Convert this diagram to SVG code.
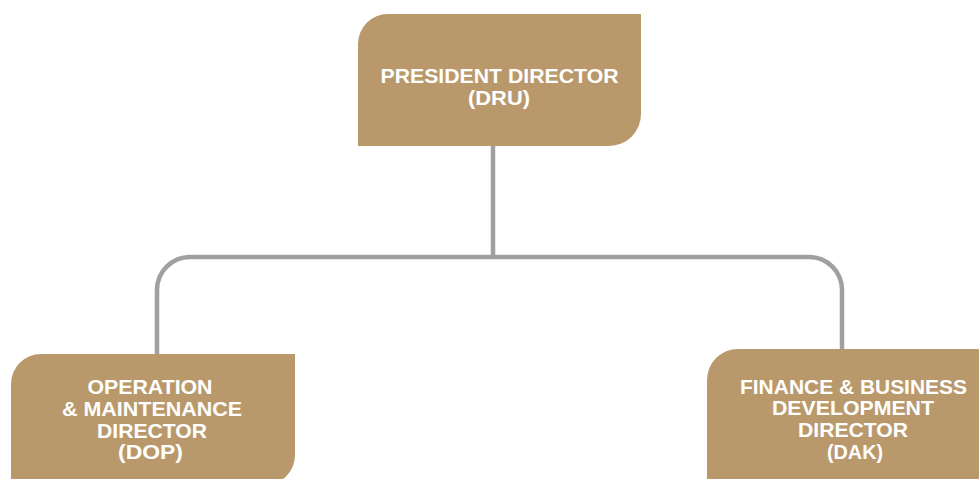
<svg xmlns="http://www.w3.org/2000/svg" width="979" height="479" viewBox="0 0 979 479">
<style>
.box{fill:#B9996B}
.conn{fill:none;stroke:#A0A0A0;stroke-width:4.5}
.t{font-family:"Liberation Sans",Arial,sans-serif;font-weight:bold;font-size:19.5px;fill:#FFFFFF;text-anchor:middle}
</style>
<rect width="979" height="479" fill="#FFFFFF"/>
<g id="connectors">
<path class="conn" d="M493,146 V257"/>
<path class="conn" d="M157,354 V290 A33,33 0 0 1 190,257 H809 A33,33 0 0 1 842,290 V349"/>
</g>
<g id="dru">
<path class="box" d="M358,44 A30,30 0 0 1 388,14 H641 V114 A32,32 0 0 1 609,146 H358 Z"/>
<text class="t" x="499.5" y="83" textLength="238" lengthAdjust="spacingAndGlyphs">PRESIDENT DIRECTOR</text>
<text class="t" x="499" y="105" textLength="62" lengthAdjust="spacingAndGlyphs">(DRU)</text>
</g>
<g id="dop">
<path class="box" d="M11,384 A30,30 0 0 1 41,354 H295 V455 A30,30 0 0 1 265,485 H11 Z"/>
<text class="t" x="150" y="394" textLength="125" lengthAdjust="spacingAndGlyphs">OPERATION</text>
<text class="t" x="152" y="416" textLength="180" lengthAdjust="spacingAndGlyphs">&amp; MAINTENANCE</text>
<text class="t" x="152" y="437.5" textLength="110" lengthAdjust="spacingAndGlyphs">DIRECTOR</text>
<text class="t" x="150.5" y="459" textLength="65" lengthAdjust="spacingAndGlyphs">(DOP)</text>
</g>
<g id="dak">
<path class="box" d="M707,380 A31,31 0 0 1 738,349 H990 V490 H707 Z"/>
<text class="t" x="853.5" y="393.5" textLength="227" lengthAdjust="spacingAndGlyphs">FINANCE &amp; BUSINESS</text>
<text class="t" x="853" y="415" textLength="162" lengthAdjust="spacingAndGlyphs">DEVELOPMENT</text>
<text class="t" x="853" y="437" textLength="110" lengthAdjust="spacingAndGlyphs">DIRECTOR</text>
<text class="t" x="855" y="458.5" textLength="56" lengthAdjust="spacingAndGlyphs">(DAK)</text>
</g>
</svg>
